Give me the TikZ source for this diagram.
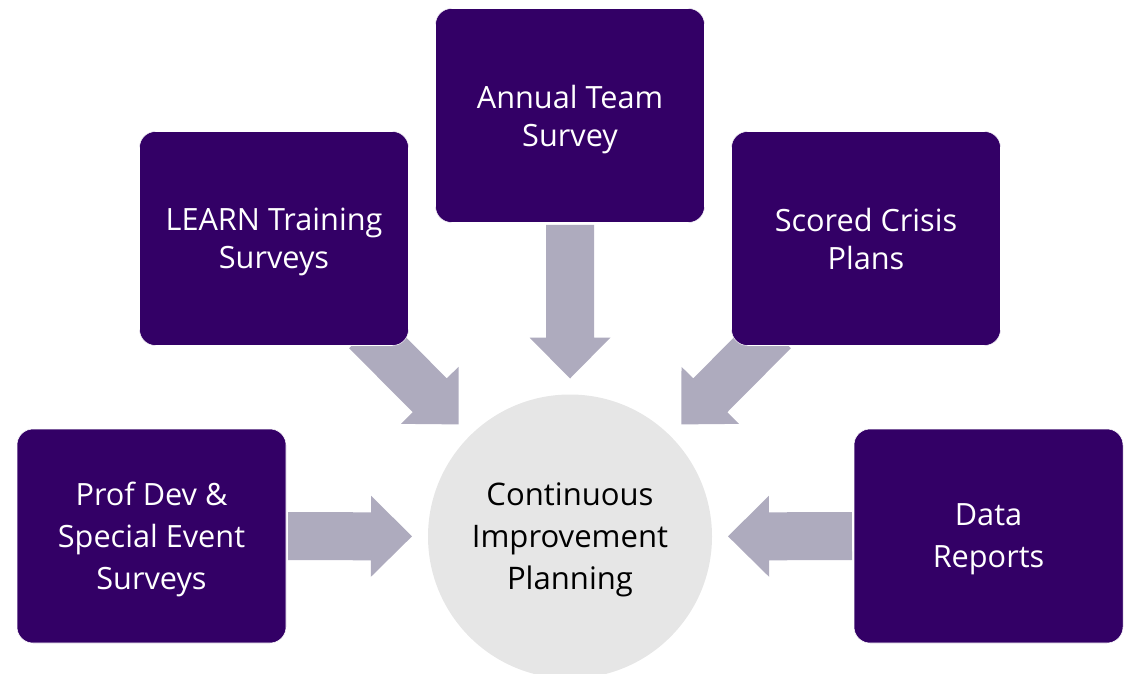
\documentclass[tikz,border=0pt]{standalone}
\usepackage{fontspec}
\setmainfont{Open Sans}
\usetikzlibrary{calc,backgrounds}
\definecolor{boxpurple}{HTML}{330066}
\definecolor{arrowgray}{HTML}{AEABBE}
\definecolor{hubgray}{HTML}{E6E6E6}

\begin{document}
\begin{tikzpicture}
        [
        x=0.75pt, y=-0.75pt,
        source/.style={rectangle,rounded corners=12pt,fill=boxpurple,draw=white,thin,text=white,
            minimum width=201.75pt,minimum height=160.5pt,align=center,text depth=0pt,
            font=\fontsize{23}{28.5}\selectfont},
        lowsource/.style={source,font=\fontsize{23}{31.5}\selectfont},
        hub/.style={circle,fill=hubgray,minimum size=213pt,align=center,text depth=0pt,
            font=\fontsize{23.3}{31.5}\selectfont},
        edge/.style={fill=arrowgray,to path={
            ($(\tikztostart)!#1!(\tikztotarget)!18pt!90:(\tikztotarget)$)
            -- ($(\tikztotarget)!149.25pt!(\tikztostart)!18pt!-90:(\tikztostart)$)
            -- ($(\tikztotarget)!149.25pt!(\tikztostart)!30.375pt!-90:(\tikztostart)$)
            -- ($(\tikztotarget)!118.5pt!(\tikztostart)$)
            -- ($(\tikztotarget)!149.25pt!(\tikztostart)!30.375pt!90:(\tikztostart)$)
            -- ($(\tikztotarget)!149.25pt!(\tikztostart)!18pt!90:(\tikztostart)$)
            -- ($(\tikztostart)!#1!(\tikztotarget)!18pt!-90:(\tikztotarget)$)
            -- cycle}}
        ]
    \useasboundingbox (0,0) rectangle (1127,674);
    \node[hub] (cip) at (570,536.5) {Continuous\\Improvement\\Planning};
    \node[lowsource] (prof) at (151.5,536) {Prof Dev \&\\Special Event\\Surveys};
    \node[source] (learn) at (274,238.5) {LEARN Training\\Surveys};
    \node[source] (annual) at (570,115.5) {Annual Team\\Survey};
    \node[source] (crisis) at (866,238.5) {Scored Crisis\\Plans};
    \node[lowsource] (data) at (988.5,536) {Data\\Reports};
    \begin{pgfonlayer}{background}
    \path[edge=102.4pt] (prof) to (cip);
    \path[edge=98.1pt] (learn) to (cip);
    \path[edge=82.1pt] (annual) to (cip);
    \path[edge=98.1pt] (crisis) to (cip);
    \path[edge=102.4pt] (data) to (cip);
    \end{pgfonlayer}
    \end{tikzpicture}
\end{document}
